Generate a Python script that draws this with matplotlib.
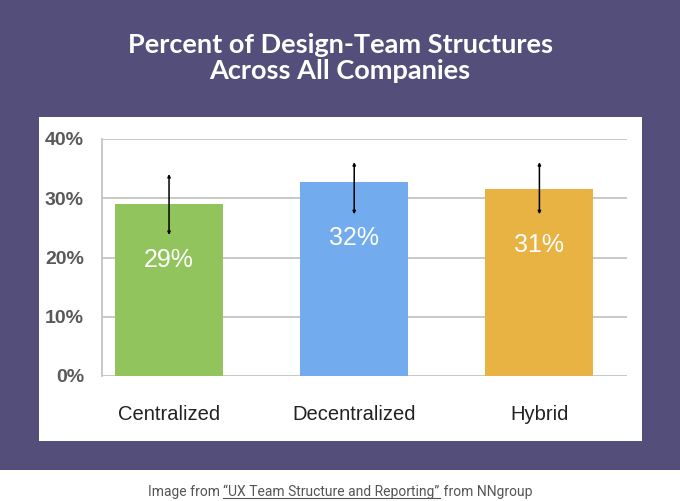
import matplotlib
matplotlib.use("Agg")
import matplotlib.pyplot as plt
from matplotlib.patches import Rectangle
from matplotlib.lines import Line2D

categories = ["Centralized", "Decentralized", "Hybrid"]
values = [29.0, 32.7, 31.5]
value_labels = ["29%", "32%", "31%"]
err_low = [23.8, 27.3, 27.3]
err_high = [34.1, 36.1, 36.1]
yticks = [0, 10, 20, 30, 40]
ytick_labels = ["0%", "10%", "20%", "30%", "40%"]
colors = ["#92c45e", "#72acee", "#e8b342"]

W, H = 680, 501
fig = plt.figure(figsize=(W / 100, H / 100), dpi=100)
fig.patch.set_facecolor("white")

# purple background and white panel
fig.patches.append(Rectangle((0, 1 - 470 / H), 1, 470 / H, transform=fig.transFigure,
                             facecolor="#544e7a", edgecolor="none", zorder=-3))
fig.patches.append(Rectangle((39 / W, 1 - 441 / H), (642 - 39) / W, (441 - 117) / H,
                             transform=fig.transFigure, facecolor="white",
                             edgecolor="none", zorder=-2))

fig.text(340 / W, 1 - 58 / H, "Percent of Design-Team Structures\nAcross All Companies",
         ha="center", va="center", color="white", fontsize=19.5, fontweight="bold",
         family="Lato", linespacing=1.1)

ax = fig.add_axes([102 / W, 1 - 376 / H, (627 - 102) / W, (376 - 139) / H])
ax.set_facecolor("none")
x = list(range(len(categories)))
bars = ax.bar(x, values, width=0.584, color=colors, zorder=2)
ax.set_ylim(0, 40)
ax.set_xlim(-0.362, 2.473)
ax.set_yticks(yticks)
ax.set_yticklabels(ytick_labels, fontsize=14, fontweight="bold", color="#595959",
                   family="Liberation Sans")
ax.yaxis.grid(True, color="#c4c4c4", linewidth=1.3, zorder=0)
ax.set_axisbelow(True)
ax.tick_params(axis="y", length=0, pad=13)
ax.tick_params(axis="x", length=0, pad=21)
ax.set_xticks(x)
ax.set_xticklabels(categories, fontsize=14.5, color="#222222", family="Liberation Sans")
for s in ["top", "right", "bottom"]:
    ax.spines[s].set_visible(False)
ax.spines["left"].set_color("#c4c4c4")
ax.spines["left"].set_linewidth(1.3)

for xi, lo, hi in zip(x, err_low, err_high):
    ax.annotate("", xy=(xi, hi), xytext=(xi, lo),
                arrowprops=dict(arrowstyle="<|-|>", color="black", lw=1.1,
                                mutation_scale=4, shrinkA=0, shrinkB=0), zorder=4)

for xi, v, lab in zip(x, values, value_labels):
    ax.annotate(lab, xy=(xi, v), xytext=(0, -40), textcoords="offset points",
                ha="center", va="center", color="white", fontsize=18,
                family="Liberation Sans", zorder=5)

# caption with underlined link portion
parts = [("Image from ", False), ("\u201cUX Team Structure and Reporting\u201d", True), (" from NNgroup", False)]
fig.canvas.draw()
renderer = fig.canvas.get_renderer()
texts = []
total = 0
for p, u in parts:
    t = fig.text(0, 1 - 492 / H, p, fontsize=10, color="#555555", family="Roboto",
                 va="center", ha="left")
    texts.append((t, u))
    total += t.get_window_extent(renderer).width
xpix = 340 - total / 2
for t, u in texts:
    t.set_x(xpix / W)
    bb = t.get_window_extent(renderer)
    if u:
        ypix = bb.y0 + 1
        fig.lines.append(Line2D([xpix / W, (xpix + bb.width) / W], [ypix / H, ypix / H],
                                transform=fig.transFigure, color="#555555", lw=0.8))
    xpix += bb.width

fig.savefig("out.png", dpi=100)
